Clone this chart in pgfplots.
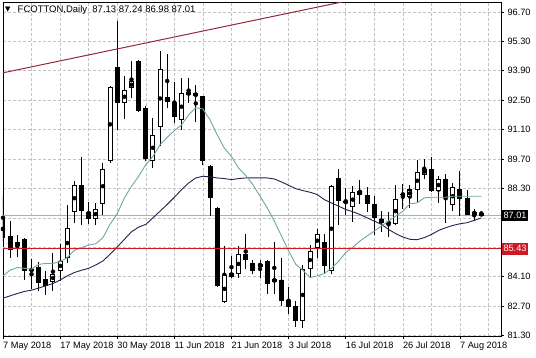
\documentclass[border=0pt]{standalone}
\usepackage{pgfplots}
\pgfplotsset{compat=1.18}
\usepackage{pgfplotstable}
\usepackage{fontspec}
\setmainfont{Liberation Sans}
\newfontfamily\dejavu{DejaVu Sans}
\definecolor{mafast}{RGB}{110,165,165}
\definecolor{maslow}{RGB}{35,35,80}
\definecolor{trendc}{RGB}{150,40,55}
\definecolor{levelc}{RGB}{205,25,35}
\definecolor{bidc}{RGB}{175,175,175}
\definecolor{gridc}{RGB}{195,195,195}

\pgfplotstableread{
i o h l c
0 86.83 88.01 85.80 85.92
1 86.04 86.75 85.01 85.36
2 85.56 86.08 85.04 85.75
3 85.91 85.95 83.94 84.38
4 84.45 84.93 83.51 84.40
5 84.58 84.82 83.40 83.78
6 83.98 84.35 83.23 83.67
7 83.83 85.25 83.43 84.25
8 84.38 85.64 83.90 84.85
9 84.98 87.50 84.77 86.43
10 87.19 88.67 86.67 88.48
11 88.48 89.79 86.54 87.25
12 87.17 87.64 86.62 86.86
13 86.86 87.61 86.54 87.30
14 87.57 89.51 87.06 89.24
15 89.59 93.19 89.51 93.11
16 94.08 96.29 91.09 92.35
17 92.35 93.64 91.61 92.98
18 93.06 94.37 92.59 93.41
19 94.35 94.40 91.95 92.00
20 92.14 92.20 89.62 89.70
21 89.62 91.64 89.27 90.85
22 91.20 94.83 90.34 93.96
23 92.66 94.72 92.11 92.40
24 92.40 93.37 91.40 91.72
25 91.56 93.56 91.09 92.82
26 92.87 93.56 92.35 92.77
27 92.71 93.21 91.48 92.82
28 92.70 92.72 89.40 89.59
29 89.35 89.40 86.98 87.85
30 87.38 87.41 83.59 83.67
31 82.88 85.56 82.83 84.17
32 84.30 85.09 84.02 84.11
33 84.25 85.56 84.06 85.17
34 85.20 86.15 84.46 84.88
35 84.77 84.88 84.22 84.35
36 84.58 84.88 84.06 84.73
37 84.85 84.90 83.30 83.75
38 83.87 85.77 83.27 83.98
39 83.94 85.01 82.72 82.93
40 82.99 83.59 82.33 82.67
41 82.69 82.93 81.70 81.98
42 82.01 84.66 81.66 84.46
43 84.46 85.61 84.06 85.33
44 85.48 86.35 85.01 86.15
45 85.77 86.15 84.30 84.61
46 84.35 88.45 84.22 88.42
47 88.80 89.24 86.56 87.72
48 87.69 88.32 87.06 87.61
49 87.41 88.40 86.71 88.13
50 88.20 88.72 87.57 87.98
51 88.01 88.35 87.19 87.57
52 87.57 87.93 86.08 86.90
53 86.87 87.22 86.24 86.67
54 86.71 87.19 85.99 86.62
55 86.62 88.48 86.56 87.82
56 87.99 88.51 87.30 88.04
57 87.88 88.48 87.35 88.25
58 88.25 89.67 87.66 89.08
59 88.96 89.71 88.77 89.24
60 89.24 89.82 88.13 88.17
61 88.17 88.88 87.61 88.75
62 88.75 88.99 86.67 87.85
63 87.50 88.56 87.25 88.36
64 88.29 89.11 86.98 87.82
65 87.85 88.21 87.03 87.06
66 87.06 87.30 86.75 87.19
67 87.13 87.24 86.98 87.01
}\ohlc

\begin{document}
\begin{tikzpicture}
\begin{axis}[
  at={(3pt,21pt)}, anchor=south west,
  width=498pt, height=334pt, scale only axis,
  xmin=0, xmax=69.75, ymin=81.28, ymax=97.17,
  axis line style={black, line width=0.8pt},
  xtick={0,8,...,64},
  xticklabels={7 May 2018, 17 May 2018, 30 May 2018, 11 Jun 2018, 21 Jun 2018, 3 Jul 2018, 16 Jul 2018, 26 Jul 2018, 7 Aug 2018},
  minor xtick={4,12,...,68},
  ytick={81.3,82.7,84.1,88.3,89.7,91.1,92.5,93.9,95.3,96.7},
  extra y ticks={85.5,86.9}, extra y tick labels={},
  extra y tick style={grid=major, major tick length=0pt},
  grid=both,
  major grid style={gridc, dash pattern=on 3pt off 2pt, line width=0.5pt},
  minor grid style={gridc, dash pattern=on 3pt off 2pt, line width=0.5pt},
  ytick pos=right, yticklabel pos=right, xtick pos=bottom,
  tick align=outside, major tick length=3pt, minor tick length=0pt,
  tick style={black, line width=0.6pt},
  ticklabel style={font=\fontsize{9.2}{10}\selectfont},
  yticklabel style={/pgf/number format/.cd, fixed, fixed zerofill, precision=2, assume math mode=true},
  xticklabel style={anchor=north west, inner xsep=0pt, inner ysep=3pt},
  clip mode=individual,
]
% bid line
\addplot[bidc, line width=0.7pt] coordinates {(-1,87.01) (71,87.01)};
% wicks
\addplot[black, only marks, mark=none,
  error bars/.cd, y dir=both, y explicit, error mark=none,
  error bar style={line width=1pt, black, line cap=butt}]
  table[x=i, y expr={(\thisrow{h}+\thisrow{l})/2}, y error expr={(\thisrow{h}-\thisrow{l})/2}] {\ohlc};
% bodies (outline / black fill)
\addplot[black, only marks, mark=none,
  error bars/.cd, y dir=both, y explicit, error mark=none,
  error bar style={line width=5pt, black, line cap=butt}]
  table[x=i, y expr={(\thisrow{o}+\thisrow{c})/2}, y error expr={max(abs(\thisrow{o}-\thisrow{c})/2,0.03)}] {\ohlc};
% white interiors
\addplot[black, only marks, mark=none,
  error bars/.cd, y dir=both, y explicit, error mark=none,
  error bar style={line width=3pt, white, line cap=butt}]
  table[x=i, y expr={(\thisrow{o}+\thisrow{c})/2}, y error expr={ifthenelse(\thisrow{c}>\thisrow{o}, max((\thisrow{c}-\thisrow{o})/2-0.048,0), 0)}] {\ohlc};
% slow MA
\addplot[maslow, line width=0.9pt] coordinates {
(0,83.08) (1,83.19) (2,83.30) (3,83.40) (4,83.46) (5,83.56) (6,83.67) (7,83.78) (8,83.94) (9,84.14)
(10,84.30) (11,84.41) (12,84.50) (13,84.66) (14,84.85) (15,85.17) (16,85.51) (17,85.88) (18,86.24) (19,86.46)
(20,86.59) (21,86.90) (22,87.22) (23,87.54) (24,87.88) (25,88.24) (26,88.56) (27,88.80) (28,88.88) (29,88.85)
(30,88.80) (31,88.77) (32,88.72) (33,88.77) (34,88.80) (35,88.80) (36,88.80) (37,88.80) (38,88.75) (39,88.61)
(40,88.45) (41,88.29) (42,88.20) (43,88.12) (44,88.01) (45,87.77) (46,87.61) (47,87.46) (48,87.30) (49,87.19)
(50,87.06) (51,86.90) (52,86.75) (53,86.59) (54,86.35) (55,86.15) (56,85.99) (57,85.88) (58,85.86) (59,85.96)
(60,86.11) (61,86.30) (62,86.43) (63,86.54) (64,86.62) (65,86.67) (66,86.78) (67,86.90)};
% fast MA
\addplot[mafast, line width=0.9pt] coordinates {
(0,84.14) (1,84.41) (2,84.54) (3,84.50) (4,84.46) (5,84.69) (6,84.73) (7,84.73) (8,84.82) (9,85.01)
(10,85.36) (11,85.48) (12,85.61) (13,85.67) (14,85.96) (15,86.60) (16,87.10) (17,87.85) (18,88.40) (19,88.88)
(20,89.43) (21,89.82) (22,90.38) (23,90.73) (24,91.05) (25,91.32) (26,91.80) (27,92.14) (28,92.08) (29,91.56)
(30,90.85) (31,90.22) (32,89.82) (33,89.27) (34,88.92) (35,88.48) (36,87.93) (37,87.38) (38,86.75) (39,86.04)
(40,85.33) (41,84.69) (42,84.41) (43,84.06) (44,84.14) (45,84.25) (46,84.50) (47,84.83) (48,85.25) (49,85.51)
(50,85.80) (51,86.04) (52,86.27) (53,86.51) (54,86.75) (55,86.98) (56,87.22) (57,87.57) (58,87.61) (59,87.85)
(60,87.88) (61,87.88) (62,87.88) (63,87.93) (64,87.93) (65,87.93) (66,87.93) (67,87.93)};
% support level
\addplot[levelc, line width=1.1pt] coordinates {(-1,85.43) (71,85.43)};
% trend line
\addplot[trendc, line width=1pt] coordinates {(-1,93.73) (50,97.35)};
\coordinate (bidpt) at (axis cs:69.75,87.01);
\coordinate (lvlpt) at (axis cs:69.75,85.43);
\end{axis}
\node[fill=black, text=white, anchor=west, inner xsep=1.5pt, inner ysep=2.5pt, xshift=0.8pt, font=\fontsize{9.2}{10}\selectfont] at (bidpt) {87.01};
\node[fill=levelc, text=white, anchor=west, inner xsep=1.5pt, inner ysep=2.5pt, xshift=0.8pt, font=\fontsize{9.2}{10}\selectfont] at (lvlpt) {85.43};
\node[anchor=west, inner sep=0pt, font=\dejavu\fontsize{7}{8}\selectfont] at (5pt,347pt) {▼};
\node[anchor=west, inner sep=0pt, font=\fontsize{9.5}{10}\selectfont] at (17.5pt,347pt) {FCOTTON,Daily\ \ 87.13 87.24 86.98 87.01};
\pgfresetboundingbox
\path[use as bounding box] (0,0) rectangle (536pt,357pt);
\end{tikzpicture}
\end{document}
